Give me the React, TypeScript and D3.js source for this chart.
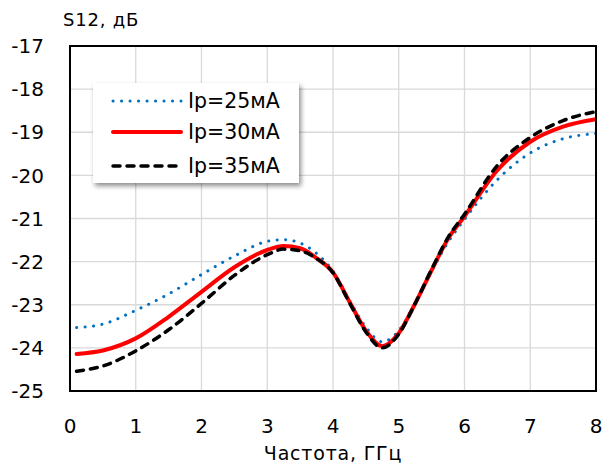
import React from "react";
import * as d3 from "d3";

const freq = [0.1, 0.5, 1, 1.5, 2, 2.5, 3, 3.25, 3.5, 3.75, 4, 4.25, 4.5, 4.75, 5, 5.25, 5.5, 5.75, 6, 6.5, 7, 7.5, 8];
const s25 = [-23.53, -23.45, -23.13, -22.75, -22.3, -21.87, -21.53, -21.49, -21.57, -21.81, -22.22, -22.9, -23.52, -23.86, -23.6, -22.95, -22.22, -21.55, -21.02, -20.1, -19.48, -19.15, -19.03];
const s30 = [-24.14, -24.06, -23.78, -23.28, -22.7, -22.13, -21.73, -21.64, -21.69, -21.92, -22.25, -22.93, -23.6, -23.96, -23.66, -22.97, -22.2, -21.47, -20.95, -19.88, -19.22, -18.87, -18.7];
const s35 = [-24.54, -24.42, -24.07, -23.58, -22.97, -22.32, -21.84, -21.71, -21.75, -21.93, -22.26, -22.95, -23.63, -24.0, -23.68, -22.97, -22.18, -21.44, -20.9, -19.77, -19.12, -18.73, -18.52];
const seriesNames = ["Ip=25мA", "Ip=30мA", "Ip=35мA"];
const xTicks = [0, 1, 2, 3, 4, 5, 6, 7, 8];
const yTicks = [-17, -18, -19, -20, -21, -22, -23, -24, -25];
const yTitle = "S12, дБ";
const xTitle = "Частота, ГГц";

const styles = [
  { color: "#0070C0", width: 3, dash: "0.1 8.4", cap: "round" },
  { color: "#FF0000", width: 4, dash: null, cap: "round" },
  { color: "#000000", width: 3.5, dash: "7 7", cap: "round" },
];

export default function App() {
  const W = 608, H = 470;
  const left = 70, right = 596, top = 46, bottom = 391;
  const x = d3.scaleLinear().domain([0, 8]).range([left, right]);
  const y = d3.scaleLinear().domain([-25, -17]).range([bottom, top]);
  const line = d3
    .line<[number, number]>()
    .x((d) => x(d[0]))
    .y((d) => y(d[1]))
    .curve(d3.curveMonotoneX);
  const all = [s25, s30, s35];
  const font = "'DejaVu Sans', sans-serif";

  return (
    <svg width={W} height={H} style={{ position: "absolute", left: 0, top: 0 }} fontFamily={font}>
      <defs>
        <filter id="sh" x="-10%" y="-10%" width="130%" height="140%">
          <feGaussianBlur in="SourceAlpha" stdDeviation="2.5" />
          <feOffset dx="2" dy="3" result="b" />
          <feComponentTransfer>
            <feFuncA type="linear" slope="0.45" />
          </feComponentTransfer>
          <feMerge>
            <feMergeNode />
            <feMergeNode in="SourceGraphic" />
          </feMerge>
        </filter>
        <clipPath id="clip">
          <rect x={left} y={top} width={right - left} height={bottom - top} />
        </clipPath>
      </defs>
      <rect width={W} height={H} fill="#fff" />
      {xTicks.map((t) => (
        <line key={"gx" + t} x1={x(t)} x2={x(t)} y1={top} y2={bottom} stroke="#D9D9D9" strokeWidth={1.3} />
      ))}
      {yTicks.map((t) => (
        <line key={"gy" + t} x1={left} x2={right} y1={y(t)} y2={y(t)} stroke="#D9D9D9" strokeWidth={1.3} />
      ))}
      <g clipPath="url(#clip)">
        {all.map((s, i) => (
          <path
            key={i}
            d={line(freq.map((f, j) => [f, s[j]] as [number, number])) || ""}
            fill="none"
            stroke={styles[i].color}
            strokeWidth={styles[i].width}
            strokeDasharray={styles[i].dash || undefined}
            strokeLinecap={styles[i].cap as any}
            strokeLinejoin="round"
          />
        ))}
      </g>
      <rect x={left} y={top} width={right - left} height={bottom - top} fill="none" stroke="#000" strokeWidth={2} />
      {yTicks.map((t) => (
        <text key={"ty" + t} x={44} y={y(t)} dy="0.36em" textAnchor="end" fontSize={20} fill="#000">
          {t}
        </text>
      ))}
      {xTicks.map((t) => (
        <text key={"tx" + t} x={x(t)} y={433} textAnchor="middle" fontSize={20} fill="#000">
          {t}
        </text>
      ))}
      <text x={63} y={26} fontSize={18} letterSpacing={0.8} fill="#000">{yTitle}</text>
      <text x={333} y={460} textAnchor="middle" fontSize={19} letterSpacing={0.8} fill="#000">{xTitle}</text>
      <g>
        <rect x={93} y={83} width={206} height={100} fill="#fff" filter="url(#sh)" />
        {seriesNames.map((n, i) => {
          const cy = [101, 132, 166][i];
          return (
            <g key={n}>
              <line
                x1={113}
                x2={181}
                y1={cy}
                y2={cy}
                stroke={styles[i].color}
                strokeWidth={styles[i].width}
                strokeDasharray={styles[i].dash || undefined}
                strokeLinecap={styles[i].cap as any}
              />
              <text x={188} y={cy} dy="0.36em" fontSize={20.5} fill="#000">
                {n}
              </text>
            </g>
          );
        })}
      </g>
    </svg>
  );
}
